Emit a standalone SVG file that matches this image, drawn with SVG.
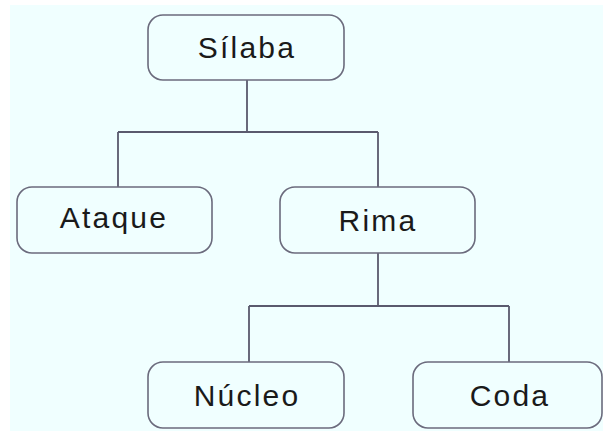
<svg xmlns="http://www.w3.org/2000/svg" width="603" height="434" viewBox="0 0 603 434">
<style>
.box{fill:#f0ffff;stroke:#6b6b7d;stroke-width:1.6}
.lbl{font-family:"Liberation Sans",Arial,sans-serif;font-size:30px;letter-spacing:2.2px;fill:#1a1a1a;text-anchor:middle}
.con{fill:none;stroke:#5a5a6e;stroke-width:1.8}
</style>
<rect x="0" y="0" width="603" height="434" fill="#ffffff"/>
<rect x="10" y="5" width="593" height="426" fill="#f0ffff"/>
<g id="connectors">
<path class="con" d="M247 80 V132 M118 132 H378 M118 132 V188 M378 132 V188"/>
<path class="con" d="M378 253 V306 M249 306 H509 M249 306 V362 M509 306 V362"/>
</g>
<g id="silaba"><rect class="box" x="148" y="15" width="196" height="65" rx="15"/><text class="lbl" x="247" y="58">Sílaba</text></g>
<g id="ataque"><rect class="box" x="17" y="187" width="195" height="66" rx="15"/><text class="lbl" x="114" y="228">Ataque</text></g>
<g id="rima"><rect class="box" x="280" y="187" width="195" height="66" rx="15"/><text class="lbl" x="378" y="231">Rima</text></g>
<g id="nucleo"><rect class="box" x="148" y="362" width="196" height="66" rx="15"/><text class="lbl" x="247" y="406">Núcleo</text></g>
<g id="coda"><rect class="box" x="413" y="362" width="189" height="66" rx="15"/><text class="lbl" x="510" y="406">Coda</text></g>
</svg>
